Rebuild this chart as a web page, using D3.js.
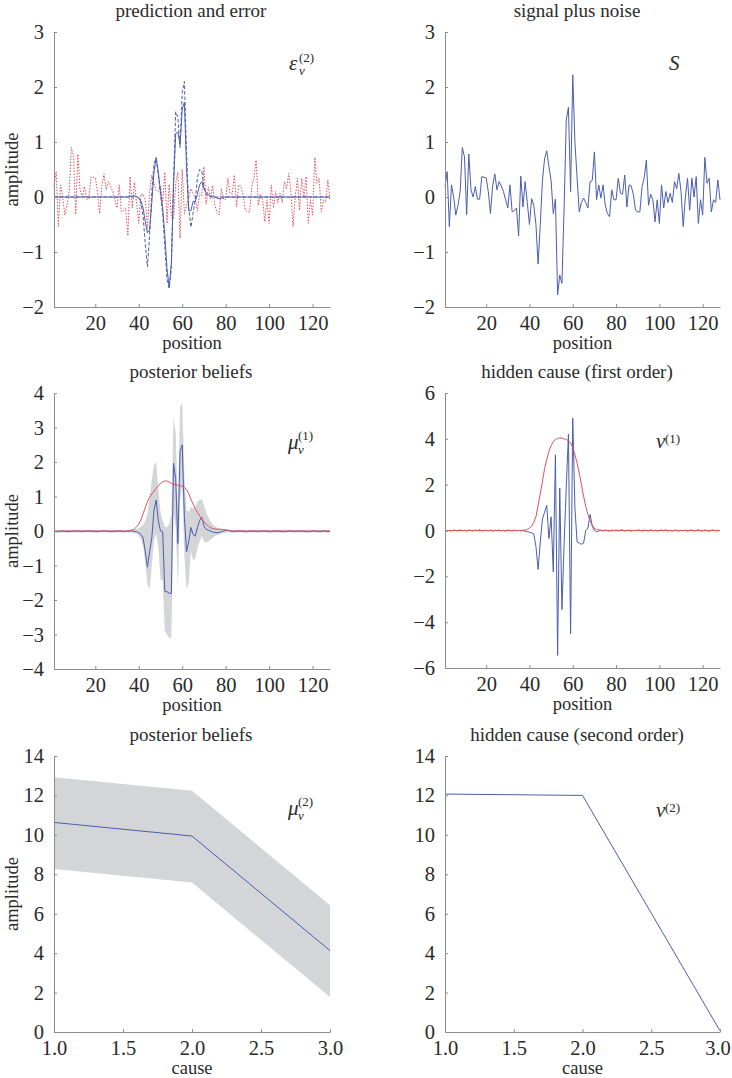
<!DOCTYPE html>
<html><head><meta charset="utf-8">
<script src="https://cdn.jsdelivr.net/npm/d3@7"></script>
<style>
body{margin:0;background:#fff}
text{font-family:"Liberation Serif","Times New Roman",serif;fill:#2a2a2a}
</style>
</head><body><svg id="c" width="732" height="1078"></svg>
<script>
// ---------- data ----------
const positions = d3.range(1, 129);
const positionTicks = [20, 40, 60, 80, 100, 120];
const causes = [1, 2, 3];
const causeTicks = [1.0, 1.5, 2.0, 2.5, 3.0];

// signal plus noise S
const signalNoise = [
0.19,0.46,-0.54,0.22,0.0,-0.33,-0.15,0.1,0.9,0.73,
-0.32,0.78,0.13,0.0,0.19,-0.04,-0.04,0.37,0.36,0.35,
0.1,-0.3,0.2,0.42,0.13,0.28,0.2,0.1,-0.05,-0.2,
0.22,-0.27,-0.25,-0.2,-0.71,0.38,-0.18,0.28,-0.1,-0.5,
-0.03,-0.15,-0.5,-1.22,-0.5,0.3,0.7,0.84,0.55,0.3,
-0.3,-0.04,-1.78,-1.42,-1.57,-0.2,1.4,1.63,0.1,2.22,
1.0,0.35,-0.27,-0.1,-0.02,-0.1,-0.2,0.28,0.3,0.82,
-0.05,0.22,-0.02,0.22,-0.15,-0.3,-0.36,0.13,-0.05,-0.05,
0.34,0.07,0.05,0.4,-0.18,0.22,0.2,0.04,-0.24,-0.27,
-0.27,0.19,0.35,0.67,-0.15,0.05,-0.05,-0.45,-0.05,-0.48,
0.22,-0.2,0.1,-0.1,0.07,-0.1,0.28,0.15,0.43,0.1,
-0.54,0.0,0.34,-0.24,0.34,0.0,0.37,-0.48,-0.05,-0.33,
0.72,0.25,0.34,-0.27,-0.05,-0.1,0.31,-0.05];

// prediction (solid blue), panel 1
const prediction = [
0,0,0,0,0,0,0,0,0,0,
0,0,0,0,0,0,0,0,0,0,
0,0,0,0,0,0,0,0,0,0,
0,0,0,0,0,0.01,0.02,0.02,0.01,-0.02,
-0.08,-0.2,-0.45,-0.65,-0.6,-0.1,0.45,0.72,0.45,0.1,
-0.2,-0.7,-1.3,-1.65,-1.2,0.2,1.15,1.18,0.95,1.6,
1.72,0.5,-0.25,-0.25,-0.08,-0.08,0.05,0.22,0.28,0.15,
0.08,0.04,0.02,0.01,0,-0.02,-0.03,-0.02,-0.01,0,
0,0,0,0,0,0,0,0,0,0,
0,0,0,0,0,0,0,0,0,0,
0,0,0,0,0,0,0,0,0,0,
0,0,0,0,0,0,0,0,0,0,
0,0,0,0,0,0,0,0];

// true signal (dashed blue), panel 1
const trueSignal = [
0,0,0,0,0,0,0,0,0,0,
0,0,0,0,0,0,0,0,0,0,
0,0,0,0,0,0,0,0,0,0,
0,0,0,0,0,0,0,0,0,-0.02,
-0.1,-0.35,-0.85,-1.27,-0.7,0.1,0.6,0.7,0.4,0.05,
-0.3,-0.9,-1.5,-1.65,-1.3,0.3,1.55,1.45,0.9,1.9,
2.1,0.8,-0.2,-0.55,-0.3,-0.05,0.35,0.5,0.48,0.2,
0.05,0.02,0,0,0,0,0,0,0,0,
0,0,0,0,0,0,0,0,0,0,
0,0,0,0,0,0,0,0,0,0,
0,0,0,0,0,0,0,0,0,0,
0,0,0,0,0,0,0,0,0,0,
0,0,0,0,0,0,0,0];

// prediction error (red dotted), panel 1
const predError = [
0.19,0.46,-0.54,0.22,0.0,-0.33,-0.15,0.1,0.9,0.73,
-0.32,0.78,0.13,0.0,0.19,-0.04,-0.04,0.37,0.36,0.35,
0.1,-0.3,0.2,0.42,0.13,0.28,0.2,0.1,-0.05,-0.2,
0.22,-0.27,-0.25,-0.2,-0.71,0.37,-0.2,0.26,-0.11,-0.48,
0.05,0.05,-0.05,-0.57,0.1,0.4,0.25,0.12,0.1,0.2,
-0.1,0.45,-0.48,0.23,-0.37,-0.4,0.25,0.45,-0.75,0.5,
-0.3,-0.15,-0.02,0.15,0.06,-0.02,-0.25,0.06,0.02,0.55,
-0.13,0.18,-0.04,0.21,-0.15,-0.28,-0.33,0.15,-0.04,-0.05,
0.34,0.07,0.05,0.4,-0.18,0.22,0.2,0.04,-0.24,-0.27,
-0.27,0.19,0.35,0.67,-0.15,0.05,-0.05,-0.45,-0.05,-0.48,
0.22,-0.2,0.1,-0.1,0.07,-0.1,0.28,0.15,0.43,0.1,
-0.54,0.0,0.34,-0.24,0.34,0.0,0.37,-0.48,-0.05,-0.33,
0.72,0.25,0.34,-0.27,-0.05,-0.1,0.31,-0.05];

// posterior beliefs, first order (blue mean)
const mu1 = [
-0.01,-0.02,-0.02,-0.01,0,-0.01,-0.02,-0.02,-0.01,0,
0,0,-0.01,-0.02,-0.01,0,0,0,-0.01,-0.02,
-0.02,-0.01,0,0,0,-0.01,-0.02,-0.02,-0.01,0,
0,-0.01,-0.02,-0.01,0,0,0,-0.01,-0.02,-0.05,
-0.1,-0.2,-0.6,-1.05,-0.6,-0.2,0.6,0.9,0.3,0.0,
-0.02,-1.75,-1.76,-1.8,-1.82,1.96,1.5,-0.36,2.3,2.5,
0.4,-0.6,-0.3,0.1,-0.1,-0.15,0.1,0.3,0.4,0.15,
0.05,0.02,0,-0.03,-0.04,-0.05,-0.04,-0.02,0,0.02,
0.02,0,-0.01,-0.02,-0.01,0,0,-0.01,-0.02,-0.02,
-0.01,0,0,-0.01,-0.02,-0.01,0,0,-0.01,-0.02,
-0.02,-0.01,0,0,-0.01,-0.02,-0.02,-0.01,0,0,
-0.01,-0.02,-0.01,0,0,-0.01,-0.02,-0.02,-0.01,0,
0,-0.01,-0.02,-0.01,0,-0.01,-0.02,-0.01];

const mu1Upper = [
0.03,0.03,0.03,0.03,0.03,0.03,0.03,0.03,0.03,0.03,
0.03,0.03,0.03,0.03,0.03,0.03,0.03,0.03,0.03,0.03,
0.03,0.03,0.03,0.03,0.03,0.03,0.03,0.03,0.03,0.03,
0.03,0.03,0.03,0.03,0.03,0.03,0.04,0.05,0.06,0.08,
0.12,0.18,0.3,0.5,0.95,1.5,1.9,2.0,1.2,0.55,
0.3,0.12,0.1,0.2,0.5,3.3,2.85,0.6,3.6,3.7,
1.6,0.6,0.55,0.7,0.65,0.7,0.85,0.9,0.93,0.75,
0.55,0.4,0.28,0.2,0.14,0.1,0.08,0.06,0.05,0.05,
0.04,0.03,0.03,0.03,0.03,0.03,0.03,0.03,0.03,0.03,
0.03,0.03,0.03,0.03,0.03,0.03,0.03,0.03,0.03,0.03,
0.03,0.03,0.03,0.03,0.03,0.03,0.03,0.03,0.03,0.03,
0.03,0.03,0.03,0.03,0.03,0.03,0.03,0.03,0.03,0.03,
0.03,0.03,0.03,0.03,0.03,0.03,0.03,0.03];

const mu1Lower = [
-0.04,-0.04,-0.04,-0.04,-0.04,-0.04,-0.04,-0.04,-0.04,-0.04,
-0.04,-0.04,-0.04,-0.04,-0.04,-0.04,-0.04,-0.04,-0.04,-0.04,
-0.04,-0.04,-0.04,-0.04,-0.04,-0.04,-0.04,-0.04,-0.04,-0.04,
-0.04,-0.04,-0.04,-0.04,-0.04,-0.04,-0.05,-0.06,-0.08,-0.12,
-0.25,-0.45,-0.9,-1.55,-1.7,-1.0,-0.25,-0.1,-0.45,-1.4,
-1.45,-2.9,-3.0,-3.1,-3.1,0.5,0.1,-1.65,0.9,1.3,
-0.7,-1.7,-1.5,-0.6,-0.85,-0.8,-0.5,-0.3,-0.15,-0.3,
-0.34,-0.3,-0.25,-0.2,-0.15,-0.12,-0.1,-0.08,-0.06,-0.05,
-0.04,-0.04,-0.04,-0.04,-0.04,-0.04,-0.04,-0.04,-0.04,-0.04,
-0.04,-0.04,-0.04,-0.04,-0.04,-0.04,-0.04,-0.04,-0.04,-0.04,
-0.04,-0.04,-0.04,-0.04,-0.04,-0.04,-0.04,-0.04,-0.04,-0.04,
-0.04,-0.04,-0.04,-0.04,-0.04,-0.04,-0.04,-0.04,-0.04,-0.04,
-0.04,-0.04,-0.04,-0.04,-0.04,-0.04,-0.04,-0.04];

// red curve in posterior beliefs (first order)
const mu1Red = [
0,0,0,0,0,0,0,0,0,0,
0,0,0,0,0,0,0,0,0,0,
0,0,0,0,0,0,0,0,0,0,
0,0,0,0,0,0.01,0.03,0.06,0.12,0.2,
0.32,0.5,0.68,0.85,0.98,1.07,1.15,1.24,1.31,1.38,
1.42,1.45,1.45,1.42,1.38,1.35,1.34,1.33,1.31,1.29,
1.26,1.2,1.08,0.92,0.78,0.65,0.54,0.44,0.35,0.27,
0.2,0.14,0.1,0.07,0.06,0.05,0.05,0.05,0.04,0.03,
0.02,0.01,0,0,0,0,0,0,0,0,
0,0,0,0,0,0,0,0,0,0,
0,0,0,0,0,0,0,0,0,0,
0,0,0,0,0,0,0,0,0,0,
0,0,0,0,0,0,0,0];

// hidden cause (first order): blue and red
const v1Blue = [
0.02,-0.02,0.01,-0.03,0.02,0,-0.02,0.03,-0.01,0.01,
-0.03,0.02,0,-0.02,0.02,-0.01,0.03,-0.02,0,0.01,
-0.02,0.02,-0.03,0.01,0,0.02,-0.02,0.01,-0.03,0.02,
0,-0.02,0.02,-0.01,0.01,-0.02,0,-0.03,-0.05,-0.08,
-0.1,-0.15,-0.7,-1.7,-0.5,0.5,0.8,1.1,-0.35,0.6,
-1.8,3.3,-5.45,1.85,-3.45,-0.6,1.9,4.2,-4.5,4.9,
1.0,-0.5,-0.55,-0.6,-0.55,0.0,0.1,0.7,0.2,0.0,
-0.05,-0.02,0.01,-0.02,0.02,0,-0.03,0.02,-0.01,0.02,
-0.02,0.01,0.03,-0.02,0,0.02,-0.03,0.01,-0.01,0.02,
0.01,-0.03,0.02,0,-0.02,0.03,-0.01,0.01,-0.02,0,
0.02,-0.01,0.03,-0.02,0.01,-0.03,0.02,0,-0.02,0.01,
-0.01,0.02,-0.03,0.01,0.02,-0.02,0,0.03,-0.01,-0.02,
0.02,0,-0.03,0.01,0.02,-0.02,0.01,-0.01];

const v1Red = [
0,0,0,0,0,0,0,0,0,0,
0,0,0,0,0,0,0,0,0,0,
0,0,0,0,0,0,0,0,0,0,
0,0,0,0,0,0,0.01,0.02,0.05,0.1,
0.2,0.35,0.6,1.1,1.6,2.15,2.7,3.1,3.45,3.7,
3.88,3.97,4.02,4.04,4.03,4.0,3.97,3.92,3.82,3.62,
3.3,2.95,2.5,2.0,1.5,1.05,0.7,0.42,0.22,0.1,
0.05,0.03,0.01,0,0,0,0,0,0,0,
0,0,0,0,0,0,0,0,0,0,
0,0,0,0,0,0,0,0,0,0,
0,0,0,0,0,0,0,0,0,0,
0,0,0,0,0,0,0,0,0,0,
0,0,0,0,0,0,0,0];

// second order
const mu2 = [10.63, 9.94, 4.13];
const mu2Upper = [12.92, 12.24, 6.43];
const mu2Lower = [8.27, 7.58, 1.77];
const v2 = [12.07, 12.0, 0.06];

const ampTicks1 = [-2, -1, 0, 1, 2, 3];
const ampTicks2 = [-4, -3, -2, -1, 0, 1, 2, 3, 4];
const ampTicks3 = [-6, -4, -2, 0, 2, 4, 6];
const ampTicks4 = [0, 2, 4, 6, 8, 10, 12, 14];

// ---------- drawing ----------
const BLUE = '#4a5eae', RED = '#e5505b', BAND = '#d3d5d8', AXIS = '#8c8c8c';
const svg = d3.select('#c');

function panel(o) {
  const x = d3.scaleLinear().domain(o.xd).range([o.x0, o.x1]);
  const y = d3.scaleLinear().domain(o.yd).range([o.y1, o.y0]);
  const g = svg.append('g');
  const plot = g.append('g');
  const xa = g.append('g').attr('transform', `translate(0,${o.y1})`)
    .call(d3.axisBottom(x).tickValues(o.xt).tickSize(-3).tickSizeOuter(0).tickPadding(8)
      .tickFormat(o.xf || d3.format('d')));
  const ya = g.append('g').attr('transform', `translate(${o.x0},0)`)
    .call(d3.axisLeft(y).tickValues(o.yt).tickSize(-3).tickSizeOuter(0).tickPadding(10)
      .tickFormat(d3.format('d')));
  [xa, ya].forEach(a => {
    a.select('.domain').attr('stroke', AXIS);
    a.selectAll('line').attr('stroke', AXIS);
    a.selectAll('text').attr('font-size', 20.5).attr('font-family', '"Liberation Serif",serif').attr('fill', '#2a2a2a');
  });
  if (o.lastShift) xa.selectAll('.tick:last-of-type text').attr('dx', o.lastShift);
  g.append('text').attr('x', o.tx).attr('y', o.y0 - 15).attr('text-anchor', 'middle')
    .attr('font-size', 19).text(o.title);
  g.append('text').attr('x', (o.x0 + o.x1) / 2).attr('y', o.y1 + 42).attr('text-anchor', 'middle')
    .attr('font-size', 18.5).text(o.xl);
  if (o.yl) {
    g.append('text').attr('transform', `translate(18,${(o.y0 + o.y1) / 2}) rotate(-90)`)
      .attr('text-anchor', 'middle').attr('font-size', 18.5).text(o.yl);
  }
  return {x, y, plot, g};
}

function lineOf(p, xs, ys) {
  return d3.line().x((d, i) => p.x(xs[i])).y(d => p.y(d))(ys);
}
function areaOf(p, xs, lo, hi) {
  return d3.area().x((d, i) => p.x(xs[i])).y0((d, i) => p.y(lo[i])).y1((d, i) => p.y(hi[i]))(lo);
}
function mathLabel(g, x, y, main, sub, sup, supDy) {
  g.append('text').attr('x', x).attr('y', y).attr('font-size', 21).attr('font-style', 'italic').text(main);
  const w = main === 'ν' ? 9 : 10;
  if (sub) g.append('text').attr('x', x + w).attr('y', y + 5).attr('font-size', 13).attr('font-style', 'italic').text(sub);
  if (sup) g.append('text').attr('x', x + w).attr('y', y - (supDy || 6)).attr('font-size', 13).text(sup);
}

// Panel 1: prediction and error
const p1 = panel({x0: 54, x1: 330, y0: 32, y1: 307, xd: [1, 128], yd: [-2, 3], xt: positionTicks, yt: ampTicks1,
  title: 'prediction and error', tx: 191, xl: 'position', yl: 'amplitude'});
p1.plot.append('path').attr('d', lineOf(p1, positions, predError)).attr('fill', 'none')
  .attr('stroke', RED).attr('stroke-width', 1).attr('stroke-dasharray', '1.5,1.5');
p1.plot.append('path').attr('d', lineOf(p1, positions, trueSignal)).attr('fill', 'none')
  .attr('stroke', BLUE).attr('stroke-width', 1).attr('stroke-dasharray', '3.5,2');
p1.plot.append('path').attr('d', lineOf(p1, positions, prediction)).attr('fill', 'none')
  .attr('stroke', BLUE).attr('stroke-width', 1);
mathLabel(p1.g, 289, 70, 'ε', 'ν', '(2)', 8);

// Panel 2: signal plus noise
const p2 = panel({x0: 445, x1: 720, y0: 32, y1: 307, xd: [1, 128], yd: [-2, 3], xt: positionTicks, yt: ampTicks1,
  title: 'signal plus noise', tx: 577, xl: 'position'});
p2.plot.append('path').attr('d', lineOf(p2, positions, signalNoise)).attr('fill', 'none')
  .attr('stroke', BLUE).attr('stroke-width', 1);
p2.g.append('text').attr('x', 669).attr('y', 70).attr('font-size', 21).attr('font-style', 'italic').text('S');

// Panel 3: posterior beliefs (first order)
const p3 = panel({x0: 54, x1: 330, y0: 393, y1: 669, xd: [1, 128], yd: [-4, 4], xt: positionTicks, yt: ampTicks2,
  title: 'posterior beliefs', tx: 191, xl: 'position', yl: 'amplitude'});
p3.plot.append('path').attr('d', areaOf(p3, positions, mu1Lower, mu1Upper)).attr('fill', BAND);
p3.plot.append('path').attr('d', lineOf(p3, positions, mu1)).attr('fill', 'none').attr('stroke', BLUE).attr('stroke-width', 1);
p3.plot.append('path').attr('d', lineOf(p3, positions, mu1Red)).attr('fill', 'none').attr('stroke', RED).attr('stroke-width', 1);
mathLabel(p3.g, 288, 449, 'μ', 'ν', '(1)', 9);

// Panel 4: hidden cause (first order)
const p4 = panel({x0: 445, x1: 720, y0: 393, y1: 668, xd: [1, 128], yd: [-6, 6], xt: positionTicks, yt: ampTicks3,
  title: 'hidden cause (first order)', tx: 577, xl: 'position'});
p4.plot.append('path').attr('d', lineOf(p4, positions, v1Blue)).attr('fill', 'none').attr('stroke', BLUE).attr('stroke-width', 1);
p4.plot.append('path').attr('d', lineOf(p4, positions, v1Red)).attr('fill', 'none').attr('stroke', RED).attr('stroke-width', 1);
mathLabel(p4.g, 656, 448, 'ν', null, '(1)', 5);

// Panel 5: posterior beliefs (second order)
const p5 = panel({x0: 54, x1: 330, y0: 756, y1: 1032, xd: [1, 3], yd: [0, 14], xt: causeTicks, yt: ampTicks4,
  title: 'posterior beliefs', tx: 191, xl: 'cause', yl: 'amplitude', xf: d3.format('.1f')});
p5.plot.append('path').attr('d', areaOf(p5, causes, mu2Lower, mu2Upper)).attr('fill', BAND);
p5.plot.append('path').attr('d', lineOf(p5, causes, mu2)).attr('fill', 'none').attr('stroke', BLUE).attr('stroke-width', 1);
mathLabel(p5.g, 288, 815, 'μ', 'ν', '(2)', 9);

// Panel 6: hidden cause (second order)
const p6 = panel({x0: 445, x1: 720, y0: 756, y1: 1032, xd: [1, 3], yd: [0, 14], xt: causeTicks, yt: ampTicks4,
  title: 'hidden cause (second order)', tx: 577, xl: 'cause', xf: d3.format('.1f'), lastShift: -2.5});
p6.plot.append('path').attr('d', lineOf(p6, causes, v2)).attr('fill', 'none').attr('stroke', BLUE).attr('stroke-width', 1);
mathLabel(p6.g, 656, 817, 'ν', null, '(2)', 5);
</script>
</body></html>
